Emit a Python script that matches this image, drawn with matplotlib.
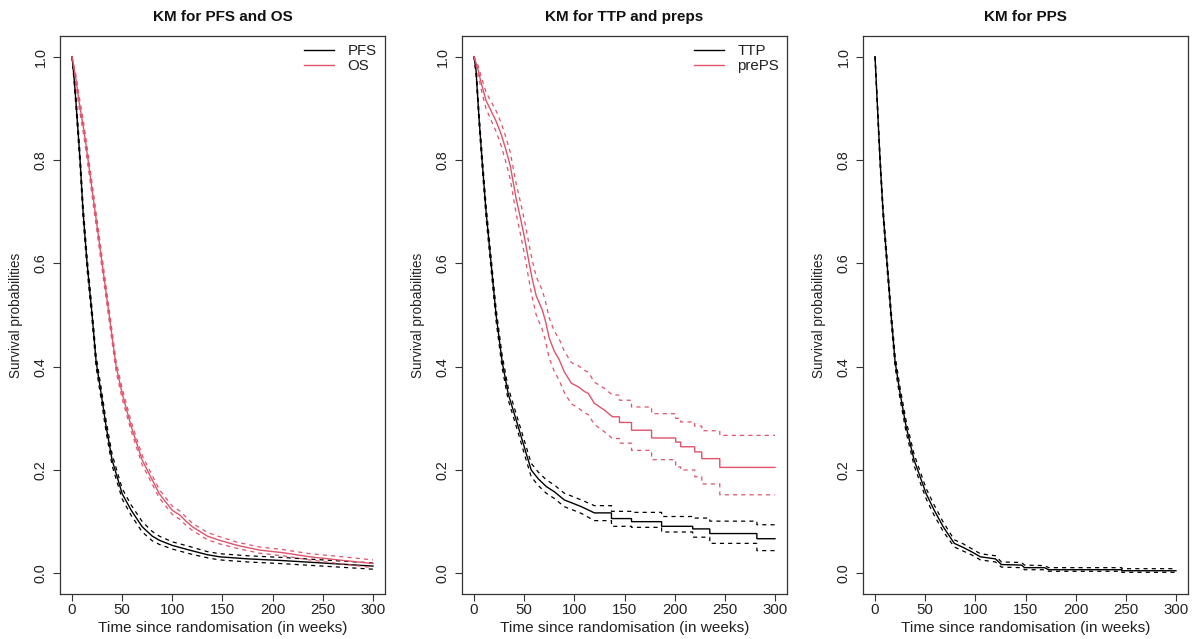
import matplotlib
matplotlib.use("Agg")
import matplotlib.pyplot as plt
from matplotlib.lines import Line2D

plt.rcParams['font.family'] = ['Liberation Sans', 'DejaVu Sans']

RED = "#DF536B"
BLACK = "#000000"
TXT = "#222222"

# ---------------- data ----------------
# Panel 1: PFS and OS
pfs_t = [0, 2, 4, 6, 8, 11, 15, 20, 24, 29, 34, 40, 50, 59, 70, 80, 87, 100, 117, 135, 147, 175, 207, 250, 300]
pfs_s = [1.0, .96, .91, .855, .8, .7, .6, .5, .41, .348, .284, .219, .154, .122, .09, .072, .064, .054, .045, .036, .032, .028, .025, .02, .014]
pfs_lo = [1.0, .952, .90, .843, .788, .687, .588, .489, .399, .337, .273, .208, .144, .112, .080, .063, .056, .047, .038, .030, .026, .022, .019, .014, .008]
pfs_hi = [1.0, .968, .92, .867, .812, .713, .612, .511, .421, .359, .295, .230, .164, .132, .100, .081, .072, .061, .052, .042, .038, .034, .031, .026, .020]

os_t = [0, 4, 7, 12, 16, 23, 30, 37, 44, 50, 59, 70, 87, 100, 108, 113, 120, 135, 147, 165, 187, 210, 237, 270, 300]
os_s = [1.0, .955, .913, .855, .8, .7, .6, .5, .4, .348, .284, .219, .154, .122, .112, .102, .09, .072, .064, .054, .045, .04, .032, .025, .019]
os_lo = [1.0, .947, .902, .843, .788, .688, .588, .489, .39, .338, .275, .210, .146, .114, .104, .094, .083, .065, .057, .048, .039, .034, .026, .018, .011]
os_hi = [1.0, .963, .924, .867, .812, .712, .612, .511, .41, .358, .293, .228, .162, .130, .120, .110, .097, .079, .071, .060, .051, .046, .038, .032, .026]

# Panel 2: TTP and prePS
ttp_t = [0, 2, 5, 8, 12, 17, 22, 28, 34, 44, 52, 57, 64, 72, 80, 90, 98, 107, 120, 137, 137, 157, 157, 187, 187, 218, 218, 235, 235, 282, 282, 300]
ttp_s = [1.0, .973, .88, .80, .70, .60, .50, .41, .348, .284, .232, .200, .183, .168, .158, .142, .136, .129, .117, .117, .106, .106, .100, .100, .091, .091, .086, .086, .077, .077, .067, .067]
ttp_lo = [1.0, .965, .870, .788, .688, .588, .488, .398, .336, .272, .219, .187, .170, .155, .145, .129, .123, .116, .102, .102, .091, .091, .089, .089, .080, .080, .070, .070, .058, .058, .044, .044]
ttp_hi = [1.0, .981, .890, .812, .712, .612, .512, .422, .360, .296, .245, .213, .196, .181, .171, .155, .149, .142, .131, .131, .120, .120, .118, .118, .110, .110, .107, .107, .101, .101, .094, .094]

preps_t = [0, 4, 7, 12, 17, 22, 27, 31, 36, 42, 46, 50, 55, 58, 62, 68, 71, 75, 80, 85,
           90, 97, 104, 110, 114, 120, 130, 138, 145, 145, 157, 157, 177, 177, 201, 201, 206, 206, 220, 220,
           227, 227, 245, 245, 300]
preps_s = [1.0, .975, .95, .915, .895, .875, .85, .825, .79, .725, .69, .653, .60, .57, .537, .51, .49, .455, .43, .413,
           .39, .368, .361, .352, .348, .329, .316, .303, .303, .292, .292, .277, .277, .262, .262, .254, .254, .245, .245, .235,
           .235, .222, .222, .205, .205]
preps_lo = [1.0, .967, .938, .899, .877, .855, .828, .801, .764, .696, .659, .620, .565, .534, .500, .472, .452, .416, .391, .373,
            .350, .328, .320, .311, .307, .288, .274, .261, .261, .252, .252, .238, .238, .220, .220, .206, .206, .200, .200, .187,
            .187, .173, .173, .152, .152]
preps_hi = [1.0, .983, .962, .931, .913, .895, .872, .849, .816, .754, .721, .686, .635, .606, .574, .548, .528, .494, .469, .453,
            .430, .408, .402, .393, .389, .370, .358, .345, .345, .335, .335, .322, .322, .309, .309, .300, .300, .293, .293, .285,
            .285, .276, .276, .267, .267]

# Panel 3: PPS
pps_t = [0, 3, 5, 8, 12, 16, 20, 25, 31, 39, 51, 59, 68, 79, 88, 96, 105, 120, 126, 146, 149, 169, 173, 246, 246, 300]
pps_s = [1.0, .88, .80, .70, .60, .50, .41, .348, .284, .219, .154, .122, .090, .058, .050, .042, .032, .028, .017, .016, .011, .011, .007, .007, .005, .005]
pps_lo = [1.0, .872, .791, .690, .589, .489, .399, .337, .273, .208, .144, .112, .081, .051, .043, .036, .026, .022, .012, .011, .007, .007, .004, .004, .002, .002]
pps_hi = [1.0, .888, .809, .710, .611, .511, .421, .359, .295, .230, .164, .132, .099, .065, .057, .048, .038, .034, .022, .021, .016, .015, .011, .011, .009, .009]

titles = ["KM for PFS and OS", "KM for TTP and preps", "KM for PPS"]
x_ticks = [0, 50, 100, 150, 200, 250, 300]
y_ticks = [0.0, 0.2, 0.4, 0.6, 0.8, 1.0]
y_ticklabels = ["0.0", "0.2", "0.4", "0.6", "0.8", "1.0"]
xlabel = "Time since randomisation (in weeks)"
ylabel = "Survival probabilities"

panels = [
    [("PFS", pfs_t, pfs_s, pfs_lo, pfs_hi, BLACK), ("OS", os_t, os_s, os_lo, os_hi, RED)],
    [("TTP", ttp_t, ttp_s, ttp_lo, ttp_hi, BLACK), ("prePS", preps_t, preps_s, preps_lo, preps_hi, RED)],
    [("PPS", pps_t, pps_s, pps_lo, pps_hi, BLACK)],
]
show_legend = [True, True, False]

# ---------------- figure ----------------
W, H = 1194, 639
fig = plt.figure(figsize=(W / 100, H / 100), dpi=100)
lefts = [60, 462, 863]
ax_w, top, bottom = 325, 36, 594

for i, left in enumerate(lefts):
    ax = fig.add_axes([left / W, (H - bottom) / H, ax_w / W, (bottom - top) / H])
    for name, t, s, lo, hi, col in panels[i]:
        ax.plot(t, s, color=col, lw=1.0, solid_joinstyle='miter')
        ax.plot(t, lo, color=col, lw=0.9, ls=(0, (3.3, 3.3)))
        ax.plot(t, hi, color=col, lw=0.9, ls=(0, (3.3, 3.3)))
    ax.set_xlim(-12, 312)
    ax.set_ylim(-0.04, 1.04)
    ax.set_xticks(x_ticks)
    ax.set_xticklabels([str(v) for v in x_ticks])
    ax.set_yticks(y_ticks)
    ax.set_yticklabels(y_ticklabels, rotation=90, va='center', ha='right')
    ax.tick_params(axis='x', length=5, width=0.8, color='#333333', pad=1.5, labelsize=10.8, labelcolor=TXT)
    ax.tick_params(axis='y', length=5, width=0.8, color='#333333', pad=4, labelsize=10.4, labelcolor=TXT)
    for sp in ax.spines.values():
        sp.set_color('#333333')
        sp.set_linewidth(0.9)
    ax.set_title(titles[i], fontsize=11, fontweight='bold', y=(bottom - 17) / (bottom - top), va='center', pad=0, color='#111111')
    ax.set_xlabel(xlabel, fontsize=11.1, color=TXT, va='center')
    ax.xaxis.set_label_coords(0.5, -(628 - bottom) / (bottom - top))
    ax.set_ylabel(ylabel, fontsize=9.8, color=TXT, va='center')
    ax.yaxis.set_label_coords(-(left + 0 - (left - 44)) / ax_w, 0.5)
    if show_legend[i]:
        handles = [Line2D([], [], color=c, lw=1.0) for (_, _, _, _, _, c) in panels[i]]
        labels = [p[0] for p in panels[i]]
        ax.legend(handles, labels, loc='upper right', bbox_to_anchor=(0.975, 0.985), frameon=False,
                  handlelength=2.0, handletextpad=0.9, labelspacing=0.05, borderpad=0, borderaxespad=0,
                  fontsize=10.8, labelcolor=TXT)

fig.savefig("out.png", dpi=100, facecolor='white')
